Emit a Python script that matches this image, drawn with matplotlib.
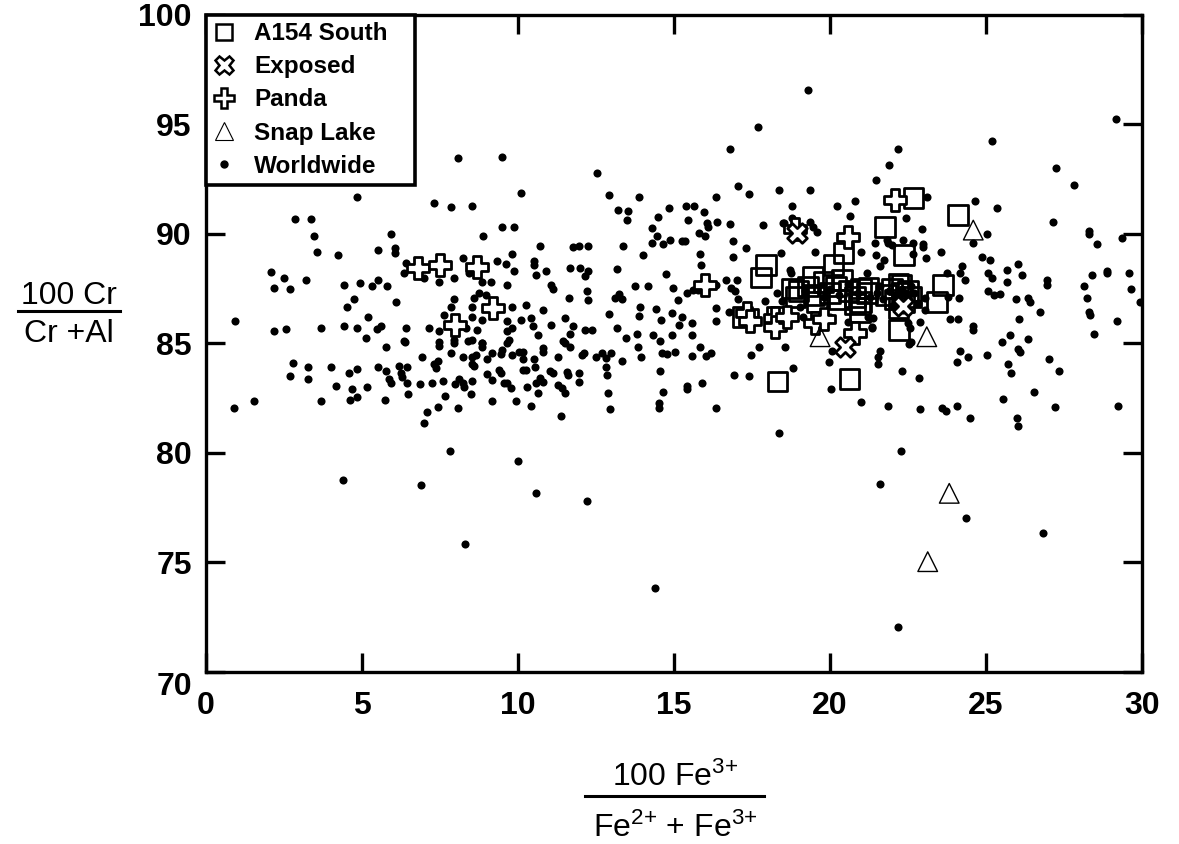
import matplotlib
matplotlib.use('Agg')
import matplotlib.pyplot as plt
from matplotlib.lines import Line2D

plt.rcParams['font.family'] = ['Liberation Sans', 'DejaVu Sans']
plt.rcParams['mathtext.fontset'] = 'custom'
plt.rcParams['mathtext.rm'] = 'Liberation Sans'
plt.rcParams['mathtext.default'] = 'regular'

# --- Worldwide compilation (region by region) ---
ww_x1 = [8.07, 9.51, 10.1, 4.86, 7.32, 7.85, 8.52, 2.85, 3.37, 9.51,
         9.88, 5.95, 3.47, 8.89, 3.58, 4.24, 5.52, 6.06, 6.07, 9.83,
         6.41, 6.36, 7.0, 7.48, 7.96, 8.23, 8.44, 9.13, 8.87, 9.35,
         9.62, 9.88, 9.67, 2.08, 2.51, 3.21, 2.19, 2.69, 4.43, 4.94,
         5.53, 5.34, 5.82, 4.75, 6.09, 4.54, 5.2, 7.96, 7.85, 8.6,
         8.76, 8.97, 8.55, 7.64, 8.55, 8.87, 9.83, 9.67, 0.94, 2.19,
         2.56, 3.69, 4.43, 4.86, 5.5, 5.61, 6.41, 7.14, 7.48, 7.96,
         8.33, 8.71, 9.67, 9.83, 5.13, 6.36, 7.96, 8.55, 9.72, 8.87]
ww_y1 = [93.46, 93.49, 91.86, 91.66, 91.4, 91.22, 91.25, 90.68, 90.68, 90.33,
         90.33, 90.0, 89.92, 89.92, 89.16, 89.04, 89.24, 89.35, 89.12, 89.07,
         88.66, 88.2, 87.98, 87.82, 87.98, 88.89, 88.2, 87.82, 87.82, 88.74,
         88.61, 88.28, 87.64, 88.25, 87.98, 87.9, 87.52, 87.49, 87.64, 87.75,
         87.9, 87.6, 87.6, 87.03, 86.88, 86.64, 86.18, 87.03, 86.68, 87.09,
         87.29, 87.21, 86.68, 86.3, 86.22, 86.07, 86.68, 86.03, 86.03, 85.57,
         85.65, 85.72, 85.81, 85.69, 85.65, 85.77, 85.72, 85.69, 85.57, 85.77,
         85.69, 85.62, 85.54, 85.69, 85.24, 85.11, 85.16, 85.16, 85.16, 85.0]

ww_x2 = [6.39, 7.48, 7.48, 7.96, 8.39, 8.87, 8.87, 9.67, 5.79, 7.85,
         8.23, 8.55, 8.65, 9.0, 9.19, 9.46, 9.51, 9.83, 10.04, 6.94,
         7.32, 7.43, 7.37, 8.55, 8.6, 2.8, 3.29, 2.69, 3.29, 4.01,
         4.59, 4.86, 5.53, 5.77, 6.18, 6.46, 6.25, 6.3, 5.88, 5.93,
         6.46, 6.86, 7.26, 7.61, 7.99, 8.12, 8.23, 8.28, 8.53, 9.0,
         9.19, 9.4, 9.46, 9.56, 9.67, 9.78, 4.17, 4.7, 5.16, 1.55,
         0.91, 3.69, 4.62, 4.86, 5.75, 6.49, 7.67, 8.49, 9.19, 9.96,
         7.45, 7.1, 6.98, 8.07, 7.83, 10.01, 4.41, 6.91, 8.31]
ww_y2 = [85.07, 85.07, 84.88, 85.03, 85.1, 85.03, 84.82, 85.03, 84.85, 84.54,
         84.39, 84.39, 84.47, 84.27, 84.57, 84.51, 84.69, 84.47, 84.62, 84.36,
         84.05, 84.21, 83.86, 84.05, 83.96, 84.08, 83.9, 83.52, 83.37, 83.93,
         83.66, 83.83, 83.93, 83.75, 83.98, 83.9, 83.63, 83.48, 83.35, 83.2,
         83.17, 83.14, 83.2, 83.29, 83.14, 83.35, 83.17, 83.02, 83.29, 83.6,
         83.32, 83.78, 83.63, 83.17, 83.2, 82.94, 83.06, 82.9, 83.02, 82.38,
         82.03, 82.36, 82.41, 82.53, 82.41, 82.68, 82.59, 82.68, 82.38, 82.38,
         82.11, 81.88, 81.34, 82.06, 80.08, 79.62, 78.76, 78.53, 75.82]

ww_x3 = [19.31, 17.71, 16.8, 12.55, 12.93, 13.88, 13.22, 13.54, 13.49, 14.86,
         15.38, 15.65, 15.98, 16.35, 17.07, 17.41, 18.38, 19.36, 18.78, 14.5,
         14.31, 14.47, 15.47, 16.07, 16.11, 16.39, 16.8, 15.82, 16.0, 14.31,
         14.64, 14.88, 15.25, 15.36, 17.87, 18.51, 18.78, 19.36, 19.47, 16.89,
         17.31, 18.43, 19.52, 10.71, 11.78, 11.97, 12.26, 13.38, 14.0, 15.84,
         15.86, 16.91, 10.53, 10.53, 10.58, 10.92, 11.67, 12.01, 12.26, 12.15,
         13.17, 14.74, 18.75, 11.06, 11.14, 11.65, 12.21, 12.24, 13.76, 14.18,
         14.98, 13.11, 13.24, 13.35, 15.14, 15.41, 15.63, 15.79, 16.37, 16.69,
         17.04, 16.83, 16.96, 17.07, 17.92, 18.48, 10.28, 10.8, 10.12, 10.44,
         10.48, 11.08, 11.51, 11.78, 12.15, 12.37, 10.66, 11.69, 11.46, 12.93,
         13.17, 13.92, 13.89, 14.42, 14.59, 14.93, 15.25, 15.18, 15.6, 16.34,
         16.78, 13.47, 13.81, 14.34, 14.56, 14.93, 15.57]
ww_y3 = [96.58, 94.87, 93.87, 92.77, 91.78, 91.7, 91.1, 91.02, 90.64, 91.2,
         91.29, 91.29, 90.99, 91.7, 92.19, 91.83, 91.98, 92.01, 91.25, 90.75,
         90.26, 89.88, 90.64, 90.49, 90.3, 90.53, 90.46, 90.03, 89.88, 89.57,
         89.53, 89.73, 89.68, 89.65, 90.41, 90.49, 90.72, 90.56, 90.33, 89.68,
         89.35, 89.12, 89.15, 89.45, 89.38, 89.45, 89.45, 89.42, 89.04, 89.07,
         88.58, 88.93, 88.74, 88.58, 88.13, 88.31, 88.43, 88.46, 88.31, 88.05,
         88.4, 88.16, 88.23, 87.67, 87.49, 87.09, 87.37, 86.99, 87.6, 87.6,
         87.52, 87.09, 87.24, 87.03, 86.99, 87.29, 87.44, 87.44, 87.67, 87.9,
         87.9, 87.52, 87.4, 87.03, 86.91, 86.91, 86.76, 86.53, 86.07, 86.15,
         85.81, 85.84, 86.15, 85.77, 85.62, 85.62, 85.36, 85.42, 85.11, 86.33,
         85.72, 86.64, 86.26, 86.58, 86.07, 86.38, 86.18, 85.84, 85.92, 86.03,
         86.41, 85.24, 85.42, 85.39, 85.11, 85.39, 85.36]

ww_x4 = [11.51, 11.67, 10.8, 10.82, 10.18, 10.16, 10.52, 10.55, 10.28, 10.16,
         10.71, 10.82, 10.6, 11.03, 11.14, 11.3, 11.57, 11.62, 11.3, 11.41,
         11.51, 10.31, 10.66, 10.41, 11.38, 11.97, 11.97, 12.05, 12.13, 12.51,
         12.69, 12.83, 12.98, 12.83, 12.85, 12.88, 12.95, 13.35, 13.86, 13.94,
         14.61, 14.77, 15.04, 14.56, 14.64, 14.54, 14.54, 15.57, 15.84, 16.05,
         16.18, 15.43, 15.43, 15.92, 16.35, 16.94, 17.4, 17.47, 17.74, 18.58,
         18.81, 18.38, 20.06, 19.98, 20.03, 10.57, 12.21, 14.4]
ww_y4 = [85.0, 84.85, 84.77, 84.62, 84.62, 84.27, 84.27, 83.93, 83.78, 83.78,
         83.4, 83.25, 83.17, 83.75, 83.63, 84.39, 83.67, 83.55, 83.1, 82.94,
         82.75, 83.02, 82.75, 82.14, 81.7, 83.63, 83.25, 84.47, 84.57, 84.36,
         84.54, 84.31, 84.54, 83.93, 83.55, 82.71, 81.98, 84.21, 84.82, 84.39,
         84.57, 84.51, 84.62, 83.73, 82.79, 82.29, 82.06, 84.42, 84.85, 84.42,
         84.57, 83.06, 82.9, 83.2, 82.03, 83.55, 83.52, 84.47, 84.82, 84.82,
         83.86, 80.92, 84.66, 84.13, 82.9, 78.15, 77.81, 73.81]

ww_x5 = [29.17, 25.21, 22.18, 21.9, 21.47, 27.25, 27.83, 24.66, 25.37, 23.11,
         20.81, 20.22, 20.65, 22.45, 22.97, 27.17, 28.31, 28.31, 28.56, 29.36,
         25.03, 24.6, 21.45, 21.88, 22.36, 22.68, 23.0, 23.0, 23.57, 21.0,
         21.47, 21.75, 21.61, 23.08, 22.68, 24.87, 25.14, 21.18, 23.75, 24.23,
         24.18, 24.34, 25.08, 25.19, 25.67, 26.02, 26.17, 25.67, 25.08, 25.28,
         25.46, 26.95, 26.95, 28.16, 28.42, 28.88, 28.88, 29.59, 29.66, 28.26,
         28.31, 28.34, 29.2, 29.95, 28.48, 24.14, 25.97, 26.37, 26.42, 26.74,
         26.07, 23.86, 24.1, 24.6, 24.6, 25.53, 25.78, 26.37, 23.05, 23.05,
         22.61, 21.35, 21.24, 21.4]
ww_y5 = [95.24, 94.22, 93.87, 93.15, 92.47, 93.0, 92.24, 91.48, 91.2, 91.66,
         91.48, 91.29, 90.79, 90.72, 90.23, 90.56, 90.11, 89.98, 89.53, 89.8,
         89.98, 89.57, 89.6, 89.57, 89.73, 89.6, 89.53, 89.38, 89.16, 89.19,
         89.04, 88.81, 88.51, 88.89, 89.07, 88.96, 88.81, 88.23, 88.2, 88.51,
         88.2, 87.9, 88.2, 87.98, 88.36, 88.61, 88.1, 87.79, 87.37, 87.21,
         87.24, 87.9, 87.64, 87.6, 88.1, 88.2, 88.31, 88.2, 87.49, 87.06,
         86.45, 86.3, 86.03, 86.88, 85.42, 87.09, 87.03, 87.09, 86.88, 86.41,
         86.12, 86.12, 86.12, 85.77, 85.62, 85.08, 85.39, 85.21, 86.53, 87.09,
         85.08, 85.69, 86.22, 86.15]

ww_x6 = [21.61, 21.56, 21.56, 22.54, 24.18, 24.09, 24.42, 25.03, 26.02, 26.1,
         25.71, 25.8, 27.04, 27.35, 26.56, 25.54, 22.31, 22.86, 21.0, 21.86,
         22.89, 23.59, 23.72, 24.09, 24.48, 25.99, 26.03, 27.22, 29.23, 22.27,
         21.61, 24.36, 26.85, 22.2]
ww_y6 = [84.66, 84.36, 84.05, 84.97, 84.66, 84.16, 84.36, 84.47, 84.72, 84.62,
         84.05, 83.63, 84.28, 83.75, 82.76, 82.46, 83.73, 83.43, 82.33, 82.14,
         82.0, 82.03, 81.92, 82.15, 81.57, 81.57, 81.24, 82.11, 82.14, 80.1,
         78.57, 77.01, 76.32, 72.03]

ww_x7 = [18.53, 19.15, 19.6, 21.82, 21.98, 16.35, 18.3, 18.72, 19.05, 19.15,
         20.01, 20.6, 21.08, 21.37, 22.52, 22.57, 22.84, 22.89, 23.8,
         21.5, 21.6, 21.7, 21.9, 22.1, 22.3, 22.5, 22.7, 21.3, 20.0,
         20.3, 20.6, 19.8, 19.2, 20.9, 22.2, 22.4, 22.6, 22.0, 22.35]
ww_y7 = [90.47, 90.25, 90.1, 89.71, 89.49, 86.59, 87.28, 88.34, 86.67, 86.21,
         86.21, 85.98, 85.45, 85.76, 85.91, 85.68, 86.82, 85.98, 87.13,
         87.3, 87.6, 87.0, 87.4, 87.2, 87.5, 87.0, 87.3, 87.1, 87.5,
         87.2, 87.7, 87.1, 87.4, 87.3, 86.9, 87.3, 87.6, 86.7, 86.5]

world_x = ww_x1 + ww_x2 + ww_x3 + ww_x4 + ww_x5 + ww_x6 + ww_x7
world_y = ww_y1 + ww_y2 + ww_y3 + ww_y4 + ww_y5 + ww_y6 + ww_y7

# --- A154 South ---
a154_x = [22.68, 24.12, 21.77, 22.38, 20.44, 17.96, 17.79, 20.12, 19.47, 23.64,
          23.43, 20.97, 20.8, 22.23, 18.32, 20.63, 17.2, 18.3,
          19.0, 19.3, 19.5, 19.8, 20.0, 20.2, 20.4, 20.6, 20.8, 21.0,
          21.2, 19.6, 20.3, 21.0, 21.24, 18.8, 18.9,
          21.8, 22.0, 22.1, 22.2, 22.3, 22.4, 22.5, 22.6, 22.2, 22.3]
a154_y = [91.62, 90.86, 90.32, 89.03, 89.11, 88.58, 88.01, 88.58, 88.04, 87.66,
          86.9, 86.44, 86.8, 85.61, 83.25, 83.36, 86.2, 86.2,
          87.4, 87.6, 87.2, 87.8, 87.3, 87.6, 87.9, 87.4, 87.1, 87.5,
          87.3, 86.9, 87.0, 86.9, 87.52, 87.5, 87.1,
          87.2, 87.5, 87.0, 87.7, 87.3, 86.9, 87.4, 87.1, 86.6, 87.67]

# --- Exposed ---
exposed_x = [20.49, 18.95, 22.35]
exposed_y = [84.85, 90.05, 86.7]

# --- Panda ---
panda_x = [22.09, 20.6, 16.0, 17.34, 18.25, 18.25, 18.62, 19.53, 20.81, 19.8,
           6.81, 7.51, 8.69, 9.22, 7.99, 17.45, 18.9]
panda_y = [91.54, 89.87, 87.66, 86.37, 86.14, 85.76, 86.2, 85.91, 85.46, 86.1,
           88.42, 88.58, 88.5, 86.6, 85.84, 86.0, 90.2]

# --- Snap Lake ---
snap_x = [24.6, 23.11, 19.69, 23.83, 23.14]
snap_y = [90.17, 85.3, 85.3, 78.15, 75.03]

fig = plt.figure(figsize=(11.79, 8.44), dpi=100)
ax = fig.add_axes([0.1745, 0.204, 0.7939, 0.7785])

ax.scatter(world_x, world_y, s=34, c='black', marker='o', linewidths=0, zorder=2)
ax.scatter(a154_x, a154_y, s=200, marker='s', facecolors='none',
           edgecolors='black', linewidths=2.0, zorder=3)
ax.scatter(panda_x, panda_y, s=230, marker='P', facecolors='white',
           edgecolors='black', linewidths=2.0, zorder=4)
ax.scatter(exposed_x, exposed_y, s=200, marker='X', facecolors='white',
           edgecolors='black', linewidths=2.0, zorder=4)
ax.scatter(snap_x, snap_y, s=200, marker='^', facecolors='none',
           edgecolors='black', linewidths=1.0, zorder=4)

ax.set_xlim(0, 30)
ax.set_ylim(70, 100)
ax.set_xticks([0, 5, 10, 15, 20, 25, 30])
ax.set_yticks([70, 75, 80, 85, 90, 95, 100])

for sp in ax.spines.values():
    sp.set_linewidth(2.4)
ax.tick_params(direction='in', length=14, width=2.4, top=True, right=True,
               labelsize=23)
ax.tick_params(axis='x', pad=14)
ax.tick_params(axis='y', pad=10)
for lab in ax.get_xticklabels() + ax.get_yticklabels():
    lab.set_fontweight('bold')
ax.get_yticklabels()[0].set_va('top')

# legend
handles = [
    Line2D([], [], ls='none', marker='s', ms=12, mfc='none', mec='black', mew=1.8),
    Line2D([], [], ls='none', marker='X', ms=13, mfc='white', mec='black', mew=1.8),
    Line2D([], [], ls='none', marker='P', ms=14, mfc='white', mec='black', mew=1.8),
    Line2D([], [], ls='none', marker='^', ms=13, mfc='none', mec='black', mew=0.8),
    Line2D([], [], ls='none', marker='o', ms=5, mfc='black', mec='black'),
]
labels = ['A154 South   ', 'Exposed', 'Panda', 'Snap Lake', 'Worldwide']
leg = ax.legend(handles, labels, loc='upper left', bbox_to_anchor=(0, 1),
                borderaxespad=0, frameon=True, fancybox=False, edgecolor='black',
                framealpha=1, prop={'weight': 'bold', 'size': 17.5},
                handlelength=0.9, handletextpad=0.8, labelspacing=0.42,
                borderpad=0.3)
leg.get_frame().set_linewidth(2.6)

# y axis label drawn as a fraction
fig.text(0.0585, 0.6398, '100 Cr', ha='center', va='baseline', fontsize=23)
fig.add_artist(Line2D([0.0153, 0.1018], [0.6315, 0.6315], color='black',
                      lw=2.2, transform=fig.transFigure))
fig.text(0.0585, 0.5948, 'Cr +Al', ha='center', va='baseline', fontsize=23)

# x axis label drawn as a fraction
fig.text(0.5725, 0.0687, '100 Fe$^{3{+}}$', ha='center', va='baseline', fontsize=23)
fig.add_artist(Line2D([0.4962, 0.648], [0.0569, 0.0569], color='black',
                      lw=2.2, transform=fig.transFigure))
fig.text(0.5725, 0.008, 'Fe$^{2{+}}$ + Fe$^{3{+}}$', ha='center', va='baseline',
         fontsize=23)

fig.savefig('out.png', dpi=100)
